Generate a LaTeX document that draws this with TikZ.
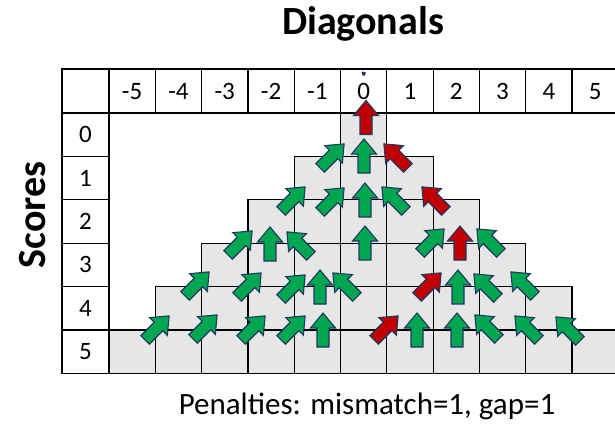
\documentclass[tikz,border=0pt]{standalone}
\usepackage{fontspec}
\setmainfont{Carlito}
\definecolor{agreen}{RGB}{0,166,80}
\definecolor{ared}{RGB}{192,0,0}
\definecolor{aedge}{RGB}{31,56,100}
\definecolor{cellgray}{RGB}{230,230,230}
\tikzset{
  gridline/.style={draw=black, line width=1.2pt},
  graycell/.style={gridline, fill=cellgray},
  numtext/.style={font=\fontsize{25}{25}\selectfont, inner sep=0pt},
  arrowshape/.style={line width=1.1pt, draw=aedge, line join=miter},
  blockarrow/.pic={
    \path[pic actions] (-6,17) -- (6,17) -- (6,-2) -- (12.5,-2) -- (0,-17) -- (-12.5,-2) -- (-6,-2) -- cycle;
  }
}
\newcommand\arrU[3]{\pic[fill=#3,arrowshape] at (#1,#2) {blockarrow};}
\newcommand\arrUR[3]{\pic[fill=#3,arrowshape,rotate=-45] at ({#1+2.1},{#2-2.1}) {blockarrow};}
\newcommand\arrUL[3]{\pic[fill=#3,arrowshape,rotate=45] at ({#1-2.1},{#2-2.1}) {blockarrow};}
\begin{document}
\begin{tikzpicture}[x=1pt,y=-1pt]
\useasboundingbox (0,0) rectangle (615,423);
% shaded pyramid cells
\foreach \r in {0,...,5}{
  \foreach \k in {-\r,...,\r}{
    \path[graycell] ({109+46.3*(\k+5)},{113+43.4*\r}) rectangle ({109+46.3*(\k+6)},{113+43.4*(\r+1)});
  }
}
% header row
\path[gridline] (62,69) rectangle (109,113);
\foreach \k [count=\i from 0] in {-5,...,5}{
  \path[gridline] ({109+46.3*\i},69) rectangle ({109+46.3*(\i+1)},113);
  \node[numtext] (h\i) at ({109+46.3*(\i+0.5)},91.5) {\k};
}
% score column
\foreach \r in {0,...,5}{
  \path[gridline] (62,{113+43.4*\r}) rectangle (109,{113+43.4*(\r+1)});
  \node[numtext] (s\r) at (85.5,{113+43.4*(\r+0.5)}) {\r};
}
% small mark above the 0
\fill[aedge] (361.5,71.5) -- (366,72.5) -- (364.5,76) -- (362.2,75) -- cycle;
% row 0
\arrU{366}{117.5}{ared}
% row 1
\arrUR{330}{158}{agreen}
\arrU{364}{156}{agreen}
\arrUL{398}{158}{ared}
% row 2
\arrUR{291}{201}{agreen}
\arrUR{330}{202}{agreen}
\arrU{365}{200}{agreen}
\arrUL{396}{201}{agreen}
\arrUL{436}{201}{ared}
% row 3
\arrUR{238}{245}{agreen}
\arrU{270}{244}{agreen}
\arrUL{301}{246}{agreen}
\arrU{365}{243}{agreen}
\arrUR{430}{243}{agreen}
\arrU{460}{243}{ared}
\arrUL{491}{243}{agreen}
% row 4
\arrUR{195}{286}{agreen}
\arrUR{247}{287}{agreen}
\arrUR{291}{289}{agreen}
\arrU{320}{287}{agreen}
\arrUL{347}{287}{agreen}
\arrUR{427}{287}{ared}
\arrU{458}{287}{agreen}
\arrUL{488}{288}{agreen}
\arrUL{525}{286}{agreen}
% row 5
\arrUR{155}{330}{agreen}
\arrUR{203}{329}{agreen}
\arrUR{251}{330}{agreen}
\arrUR{291}{330}{agreen}
\arrU{323}{330}{agreen}
\arrUR{384}{330}{ared}
\arrU{417}{330}{agreen}
\arrU{457}{330}{agreen}
\arrUL{489}{329}{agreen}
\arrUL{529}{330}{agreen}
\arrUL{570}{331}{agreen}
% texts
\node[font=\bfseries\fontsize{40}{40}\selectfont, anchor=base, inner sep=0pt] (title) at (363,34) {Diagonals};
\node[font=\bfseries\fontsize{40}{40}\selectfont, rotate=90, anchor=base, inner sep=0pt] (scores) at (45,215) {Scores};
\node[font=\fontsize{31}{31}\selectfont, anchor=base, inner sep=0pt] (pen) at (367,414) {Penalties: mismatch=1, gap=1};
\end{tikzpicture}
\end{document}
